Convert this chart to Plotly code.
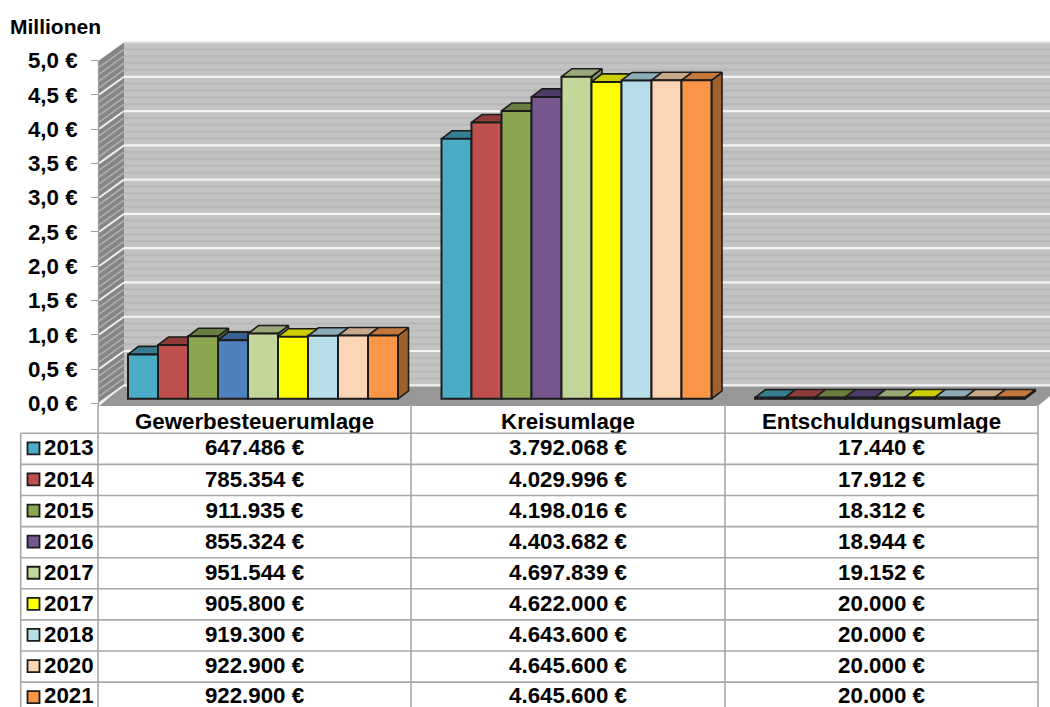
import plotly.graph_objects as go

# ---------- data ----------
categories = ["Gewerbesteuerumlage", "Kreisumlage", "Entschuldungsumlage"]
years = ["2013", "2014", "2015", "2016", "2017", "2017", "2018", "2020", "2021"]
gewerbe = [647486, 785354, 911935, 855324, 951544, 905800, 919300, 922900, 922900]
kreis = [3792068, 4029996, 4198016, 4403682, 4697839, 4622000, 4643600, 4645600, 4645600]
entschuldung = [17440, 17912, 18312, 18944, 19152, 20000, 20000, 20000, 20000]
tick_values = [0, 0.5, 1, 1.5, 2, 2.5, 3, 3.5, 4, 4.5, 5]
tick_labels = ["0,0 €", "0,5 €", "1,0 €", "1,5 €", "2,0 €", "2,5 €", "3,0 €", "3,5 €", "4,0 €", "4,5 €", "5,0 €"]

front_colors = ["#4bacc6", "#c0504d", "#8ba650", "#75568f", "#c4d79b", "#ffff00", "#b7dee8", "#fcd5b4", "#fb9648"]
top_colors = ["#367f93", "#8e3b39", "#687f3f", "#4f3b6a", "#98a878", "#cccc00", "#8cacb8", "#c8a88a", "#c4773a"]
side_colors = ["#2f6f80", "#7d3432", "#5a6e36", "#44335c", "#84926a", "#b0b000", "#7a96a0", "#ae9278", "#a0622d"]
# the 2016 bar of the first group is blue in the source
first_group_front_2016 = "#4f81bd"
first_group_top_2016 = "#38618f"

# ---------- geometry (pixels -> axis units) ----------
W, H = 1050, 707
UX, UY = 313.5, 68.56          # px per category, px per million
X0_PX, Y0_PX = 263.0, 403.3    # pixel of category 0 / of value 0
AX_L = 99.0
FLOOR_B = 406.0
BAR_W = 30.0 / UX
BAR_BASE = 4.5 / UY
BAR_DX, BAR_DY = 10.5 / UX, 8.0 / UY
WALL_DX, WALL_DY = 25.0 / UX, 18.0 / UY


def X(px):
    return (px - X0_PX) / UX


def Y(py):
    return (Y0_PX - py) / UY


def PX(px):
    return px / W


def PY(py):
    return 1 - py / H


xL, xR = X(AX_L), X(1038.0)
xEnd = X(W)
fig = go.Figure()
shapes = []


def poly(pts, fill, line=None, width=0):
    path = "M " + " L ".join(f"{a},{b}" for a, b in pts) + " Z"
    return dict(type="path", path=path, xref="x", yref="y", fillcolor=fill, layer="below",
                line=dict(color=line or fill, width=width))


# back wall
shapes.append(poly([(xL + WALL_DX, WALL_DY), (xR + WALL_DX, WALL_DY), (xR + WALL_DX, 5 + WALL_DY), (xL + WALL_DX, 5 + WALL_DY)], "#c3c3c3"))
# left wall
shapes.append(poly([(xL, 0), (xL + WALL_DX, WALL_DY), (xL + WALL_DX, 5 + WALL_DY), (xL, 5)], "#858585"))
# floor
shapes.append(poly([(xL, Y(FLOOR_B)), (xR, Y(FLOOR_B)), (xR + WALL_DX, WALL_DY), (xL + WALL_DX, WALL_DY)], "#979797"))

for k in range(0, 51):
    v = k / 10
    major = k % 5 == 0
    if not major:
        shapes.append(dict(type="line", xref="x", yref="y", layer="below", x0=xL + WALL_DX, x1=xR + WALL_DX,
                           y0=v + WALL_DY, y1=v + WALL_DY, line=dict(color="#b9b9b9", width=2.4)))
        shapes.append(dict(type="line", xref="x", yref="y", layer="below", x0=xL, x1=xL + WALL_DX,
                           y0=v, y1=v + WALL_DY, line=dict(color="#b0b0b0", width=1.6)))
for k in range(0, 11):
    v = k / 2
    col = "#dcdcdc" if k == 10 else "#f4f4f4"
    shapes.append(dict(type="line", xref="x", yref="y", layer="below", x0=xL + WALL_DX, x1=xR + WALL_DX,
                       y0=v + WALL_DY, y1=v + WALL_DY, line=dict(color=col, width=2.2)))
    if k < 10:
        shapes.append(dict(type="line", xref="x", yref="y", layer="below", x0=xL, x1=xL + WALL_DX,
                           y0=v, y1=v + WALL_DY, line=dict(color="#ececec", width=2)))

# ---------- bars ----------
columns = [gewerbe, kreis, entschuldung]
EDGE = "#1c1c1c"
for i, year in enumerate(years):
    vals = [c[i] / 1e6 for c in columns]
    off = (-135.0 + 30.0 * i) / UX
    tops_x, tops_y, sides_x, sides_y = [], [], [], []
    for g, v in enumerate(vals):
        l, r = g + off, g + off + BAR_W
        b, t = BAR_BASE, BAR_BASE + v
        tops_x += [l, r, r + BAR_DX, l + BAR_DX, l, None]
        tops_y += [t, t, t + BAR_DY, t + BAR_DY, t, None]
        sides_x += [r, r + BAR_DX, r + BAR_DX, r, r, None]
        sides_y += [b, b + BAR_DY, t + BAR_DY, t, b, None]
    fig.add_trace(go.Scatter(x=sides_x, y=sides_y, mode="lines", fill="toself", fillcolor=side_colors[i],
                             line=dict(color=EDGE, width=1.6), hoverinfo="skip", showlegend=False, zorder=3 * i))
    fig.add_trace(go.Scatter(x=tops_x, y=tops_y, mode="lines", fill="toself", fillcolor=top_colors[i],
                             line=dict(color=EDGE, width=1.6), hoverinfo="skip", showlegend=False, zorder=3 * i + 1))
    if i == 3:
        fig.add_trace(go.Scatter(x=tops_x[:5], y=tops_y[:5], mode="lines", fill="toself", fillcolor=first_group_top_2016,
                                 line=dict(color=EDGE, width=1.6), hoverinfo="skip", showlegend=False, zorder=3 * i + 1))
    bar_colors = [front_colors[i]] * 3
    if i == 3:
        bar_colors[0] = first_group_front_2016
    fig.add_trace(go.Bar(x=[0, 1, 2], y=vals, base=BAR_BASE, width=BAR_W, offset=off, name=year,
                         marker=dict(color=bar_colors, line=dict(color=EDGE, width=2)),
                         showlegend=False, zorder=3 * i + 2,
                         customdata=categories, hovertemplate="%{customdata}: %{y:.3f}<extra>" + year + "</extra>"))

# ---------- data table (paper coordinates) ----------
GRID = "#a8a8a8"
T_L, T_C0, T_C1, T_C2, T_R = 20.7, 98.0, 411.0, 725.0, 1038.0
T_H0, ROW_H = 433.3, 31.1
for py in [T_H0 + k * ROW_H for k in range(9)]:
    shapes.append(dict(type="line", xref="paper", yref="paper", x0=PX(T_L), x1=PX(T_R), y0=PY(py), y1=PY(py),
                       line=dict(color=GRID, width=1.6)))
shapes.append(dict(type="line", xref="paper", yref="paper", x0=PX(T_L), x1=PX(T_L), y0=PY(T_H0), y1=0,
                   line=dict(color=GRID, width=1.6)))
for px in [T_C0, T_C1, T_C2, T_R]:
    shapes.append(dict(type="line", xref="paper", yref="paper", x0=PX(px), x1=PX(px), y0=PY(FLOOR_B - 1), y1=0,
                       line=dict(color=GRID, width=1.6)))
# axis line
shapes.append(dict(type="line", xref="paper", yref="paper", x0=PX(AX_L - .5), x1=PX(AX_L - .5), y0=PY(60.5), y1=PY(FLOOR_B),
                   line=dict(color="#a0a0a0", width=1.2)))

FS = 22.3
FONT = dict(family="Liberation Sans, Arial, sans-serif", size=FS, color="#000000")


def BOLD(s):
    return f"<b>{s}</b>"


def euro(v):
    return f"{v:,}".replace(",", ".") + " €"


# table text is placed on a page-sized second subplot, so that the last row stays in place
TEXT_DY = 1.5
cell_x, cell_y, cell_t = [], [], []
year_x, year_y, year_t = [], [], []
centers = [254.5, 568.0, 881.5]
for c, name in zip(centers, categories):
    cell_x.append(c)
    cell_y.append(422 + TEXT_DY)
    cell_t.append(BOLD(name))
for i, year in enumerate(years):
    yc = T_H0 + ROW_H * (i + 0.5) - 0.5
    # the last row sits tight against the page edge, so it gets no extra shift
    text_y = yc + (TEXT_DY if i < len(years) - 1 else 0.0)
    shapes.append(dict(type="rect", xref="paper", yref="paper", x0=PX(27.5), x1=PX(39.5), y0=PY(yc - 6), y1=PY(yc + 6),
                       fillcolor=front_colors[i], line=dict(color=EDGE, width=1.8)))
    year_x.append(44)
    year_y.append(text_y)
    year_t.append(BOLD(year))
    for c, col in zip(centers, columns):
        cell_x.append(c)
        cell_y.append(text_y)
        cell_t.append(BOLD(euro(col[i])))

fig.add_trace(go.Scatter(x=cell_x, y=cell_y, text=cell_t, mode="text", textposition="middle center", textfont=FONT,
                         xaxis="x2", yaxis="y2", cliponaxis=False, hoverinfo="skip", showlegend=False))
fig.add_trace(go.Scatter(x=year_x, y=year_y, text=year_t, mode="text", textposition="middle right", textfont=FONT,
                         xaxis="x2", yaxis="y2", cliponaxis=False, hoverinfo="skip", showlegend=False))

annotations = [dict(text=BOLD("Millionen"), x=PX(8), y=PY(26), xref="paper", yref="paper", xanchor="left",
                    yanchor="middle", showarrow=False, font=dict(FONT, size=21))]

fig.update_layout(
    width=W, height=H, margin=dict(l=0, r=0, t=0, b=0, autoexpand=False), autosize=False,
    paper_bgcolor="white", plot_bgcolor="rgba(0,0,0,0)", barmode="overlay", showlegend=False,
    font=FONT, shapes=shapes, annotations=annotations,
    xaxis=dict(domain=[PX(AX_L), 1], range=[X(AX_L), xEnd], visible=False, fixedrange=True, automargin=False),
    yaxis=dict(domain=[PY(FLOOR_B), 1], range=[Y(FLOOR_B), Y(0)], tickmode="array", tickvals=tick_values,
               ticktext=[BOLD(t) for t in tick_labels], ticks="outside", ticklen=7, tickcolor="#a0a0a0", tickwidth=1.2,
               showgrid=False, zeroline=False, showline=False, ticklabelstandoff=9,
               tickfont=dict(FONT), fixedrange=True, automargin=False),
    xaxis2=dict(domain=[0, 1], range=[0, W], visible=False, fixedrange=True, anchor="y2", automargin=False),
    yaxis2=dict(domain=[0, 1], range=[H, 0], visible=False, fixedrange=True, anchor="x2", automargin=False),
)

fig.write_html("out.html", config={"displayModeBar": False},
               post_script="document.body.style.margin='0';document.body.style.overflow='hidden';")
